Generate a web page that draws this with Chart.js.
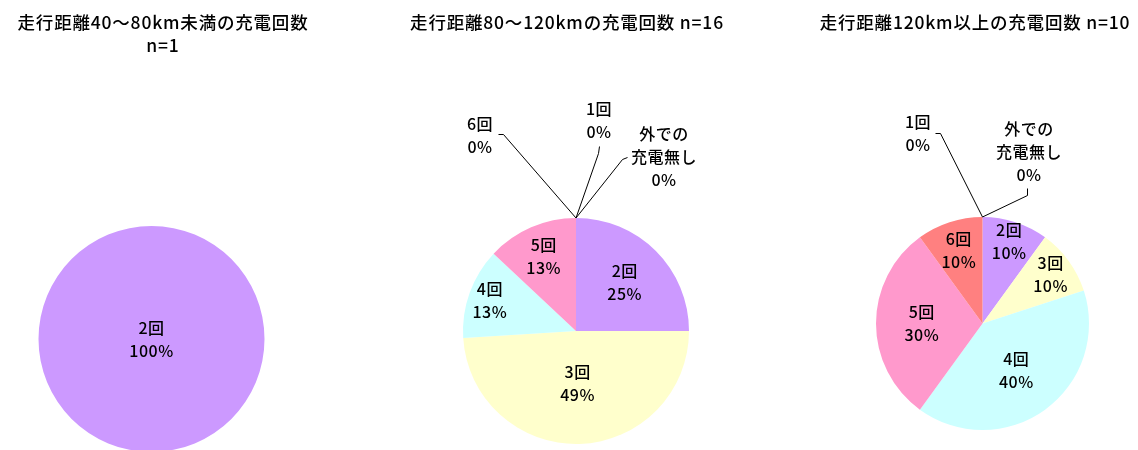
<!DOCTYPE html>
<html>
<head>
<meta charset="utf-8">
<script src="https://cdn.jsdelivr.net/npm/chart.js@4.4.1/dist/chart.umd.min.js"></script>
<style>
    body { margin: 0; background: #fff; overflow: hidden; width: 1138px; height: 450px; position: relative; }
    canvas { position: absolute; top: 0; }
</style>
</head>
<body>
<canvas id="pie1" width="379" height="460" style="left:0px"></canvas>
<canvas id="pie2" width="379" height="460" style="left:379px"></canvas>
<canvas id="pie3" width="380" height="460" style="left:758px"></canvas>
<script>
// charging counts, share of vehicles (%) per daily driving distance
var categories = ["外での充電無し", "1回", "2回", "3回", "4回", "5回", "6回"];
var share40to80 = [0, 0, 100, 0, 0, 0, 0];
var share80to120 = [0, 0, 25, 49, 13, 13, 0];
var share120plus = [0, 0, 10, 10, 40, 30, 10];

var sliceColors = ["#CC99FF", "#CC99FF", "#CC99FF", "#FFFFCC", "#CCFFFF", "#FF99CC", "#FF8080"];

var titleFont = '500 17.5px "Noto Sans CJK JP", sans-serif';
var labelFont = '500 16px "Noto Sans CJK JP", sans-serif';
var lineGap = 23;

function labelLines(name) {
    // long category name is broken after "の" like the original sheet
    var k = name.indexOf("の");
    if (k > 0 && name.length > 4) return [name.slice(0, k + 1), name.slice(k + 1)];
    return [name];
}

function drawLines(ctx, lines, x, y) {
    var top = y - (lines.length - 1) * lineGap / 2;
    lines.forEach(function (t, i) { ctx.fillText(t, x, top + i * lineGap); });
}

var pieLabels = {
    id: "pieLabels",
    afterDatasetsDraw: function (chart, args, opts) {
        var ctx = chart.ctx;
        var meta = chart.getDatasetMeta(0);
        var values = chart.data.datasets[0].data;
        ctx.save();
        ctx.fillStyle = "#000";
        ctx.strokeStyle = "#000";
        ctx.lineWidth = 1;
        ctx.textAlign = "center";
        ctx.textBaseline = "middle";

        ctx.font = titleFont;
        ctx.letterSpacing = "0.8px";
        opts.title.forEach(function (t, i) { ctx.fillText(t, opts.titleX - opts.left, 22 + i * 23); });

        ctx.font = labelFont;
        ctx.letterSpacing = "0.5px";
        meta.data.forEach(function (arc, i) {
            var lines = labelLines(categories[i]).concat(values[i] + "%");
            if (values[i] > 0) {
                var mid = (arc.startAngle + arc.endAngle) / 2;
                var d = arc.outerRadius * opts.inset[i];
                drawLines(ctx, lines, arc.x + Math.cos(mid) * d, arc.y + Math.sin(mid) * d);
            } else if (opts.callout[i]) {
                var c = opts.callout[i];
                drawLines(ctx, lines, c.x - opts.left, c.y);
                var ax = arc.x + Math.cos(arc.startAngle) * arc.outerRadius;
                var ay = arc.y + Math.sin(arc.startAngle) * arc.outerRadius;
                ctx.beginPath();
                ctx.moveTo(c.line[0][0] - opts.left + 0.5, c.line[0][1] + 0.5);
                ctx.lineTo(c.line[1][0] - opts.left + 0.5, c.line[1][1] + 0.5);
                ctx.lineTo(ax, ay);
                ctx.stroke();
            }
        });
        ctx.restore();
    }
};

function makePie(id, data, padding, labelOpts) {
    return new Chart(id, {
        type: "pie",
        data: {
            labels: categories,
            datasets: [{
                data: data,
                backgroundColor: sliceColors,
                borderWidth: 0
            }]
        },
        options: {
            responsive: false,
            animation: false,
            layout: { padding: padding },
            plugins: {
                legend: { display: false },
                tooltip: { enabled: false },
                pieLabels: labelOpts
            }
        },
        plugins: [pieLabels]
    });
}

makePie("pie1", share40to80,
    { left: 38.5, right: 114.5, top: 226, bottom: 8 },
    {
        left: 0, titleX: 163,
        title: ["走行距離40～80km未満の充電回数", "n=1"],
        inset: [0, 0, 0, 0, 0, 0, 0],
        callout: {}
    });

makePie("pie2", share80to120,
    { left: 84, right: 69, top: 218, bottom: 16 },
    {
        left: 379, titleX: 567,
        title: ["走行距離80～120kmの充電回数 n=16"],
        inset: [0, 0, 0.61, 0.46, 0.81, 0.72, 0],
        callout: {
            0: { x: 664, y: 157, line: [[627, 157], [622, 159]] },
            1: { x: 599, y: 120, line: [[599, 146], [598, 153]] },
            6: { x: 480, y: 135, line: [[498, 134], [503, 134]] }
        }
    });

makePie("pie3", share120plus,
    { left: 118, right: 49, top: 217, bottom: 30 },
    {
        left: 758, titleX: 975,
        title: ["走行距離120km以上の充電回数 n=10"],
        inset: [0, 0, 0.81, 0.79, 0.54, 0.57, 0.72],
        callout: {
            0: { x: 1029, y: 152, line: [[1027, 188], [1027, 195]] },
            1: { x: 918, y: 133, line: [[935, 133], [940, 133]] }
        }
    });
</script>
</body>
</html>
